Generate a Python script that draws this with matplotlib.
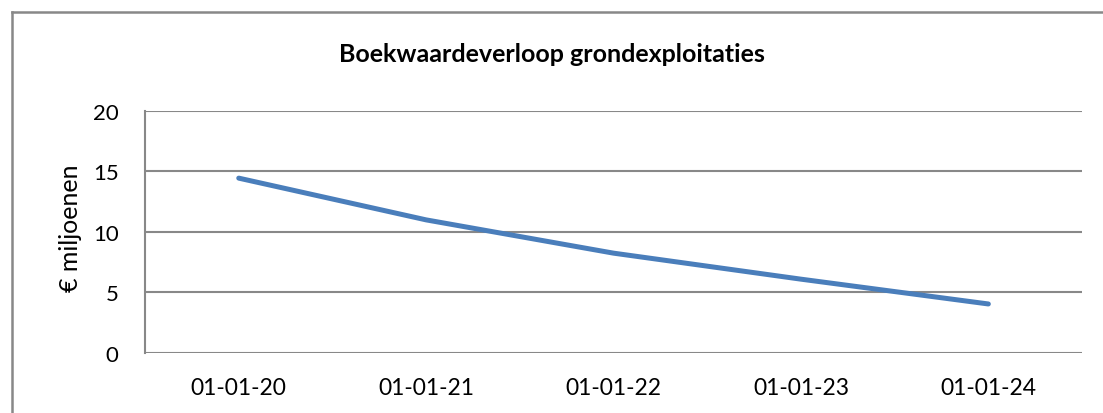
import matplotlib.pyplot as plt
from matplotlib.lines import Line2D

# data
dates = ['01-01-20', '01-01-21', '01-01-22', '01-01-23', '01-01-24']
boekwaarde = [14.45, 11.0, 8.25, 6.1, 4.05]
y_ticks = [0, 5, 10, 15, 20]

plt.rcParams['font.family'] = ['Lato', 'DejaVu Sans']

fig = plt.figure(figsize=(11.03, 4.14), dpi=100)
ax = fig.add_axes([0.1315, 0.145, 0.981 - 0.1315, 0.7295 - 0.145])

x = range(len(dates))
ax.plot(x, boekwaarde, color='#4a7ebb', linewidth=3.6, solid_capstyle='round')

ax.set_xlim(-0.5, len(dates) - 0.5)
ax.set_ylim(0, 20)
ax.set_yticks(y_ticks)
ax.set_yticklabels([str(v) for v in y_ticks], fontsize=16)
ax.set_xticks(list(x))
ax.set_xticklabels(dates, fontsize=16.5)
ax.tick_params(axis='both', length=0)
ax.tick_params(axis='y', pad=19)
ax.tick_params(axis='x', pad=17)

ax.grid(axis='y', color='#888888', linewidth=1.5)
ax.set_axisbelow(True)
for s in ['top', 'right', 'bottom']:
    ax.spines[s].set_visible(False)
ax.spines['left'].set_color('#888888')
ax.spines['left'].set_linewidth(1.5)

fig.text(70 / 1103, 1 - 228 / 414, '€ miljoenen', rotation=90,
         ha='center', va='center', fontsize=18)
fig.text(0.5, 1 - 55 / 414, 'Boekwaardeverloop grondexploitaties',
         ha='center', va='center', fontsize=18, fontweight='bold')

# outer chart frame (only left and top edges visible)
fx = 12 / 1103
fy = 1 - 12.5 / 414
fig.add_artist(Line2D([fx, fx], [0, fy], color='#888888', linewidth=1.8,
                      transform=fig.transFigure))
fig.add_artist(Line2D([fx, 1], [fy, fy], color='#888888', linewidth=1.8,
                      transform=fig.transFigure))

fig.savefig('out.png', dpi=100)
